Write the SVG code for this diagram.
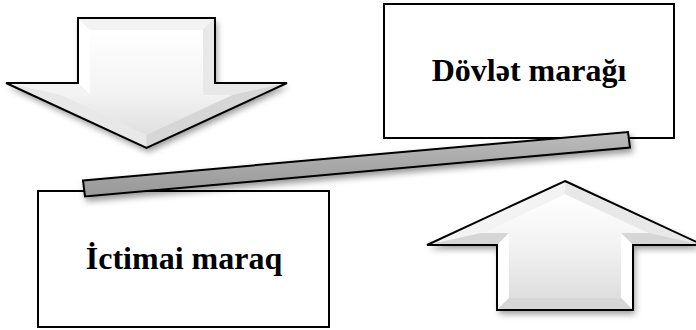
<svg xmlns="http://www.w3.org/2000/svg" width="696" height="330" viewBox="0 0 696 330">
  <defs>
    <filter id="softShadow" x="-20%" y="-20%" width="140%" height="160%">
      <feDropShadow dx="2" dy="4" stdDeviation="3" flood-color="#000" flood-opacity="0.4"/>
    </filter>
    <linearGradient id="faceDown" x1="0" y1="0" x2="0" y2="1">
      <stop offset="0" stop-color="#ffffff"/>
      <stop offset="0.6" stop-color="#f3f3f3"/>
      <stop offset="1" stop-color="#e0e0e0"/>
    </linearGradient>
    <linearGradient id="faceUp" x1="0" y1="0" x2="0" y2="1">
      <stop offset="0" stop-color="#ffffff"/>
      <stop offset="0.5" stop-color="#f2f2f2"/>
      <stop offset="1" stop-color="#dedede"/>
    </linearGradient>
    <linearGradient id="beamFill" x1="0" y1="0" x2="0" y2="1">
      <stop offset="0" stop-color="#bcbcbc"/>
      <stop offset="0.5" stop-color="#a8a8a8"/>
      <stop offset="1" stop-color="#989898"/>
    </linearGradient>
    <style>
      .outline { fill: none; stroke: #000; stroke-width: 2; stroke-linejoin: miter; }
      .box { fill: #fff; stroke: #000; stroke-width: 2; }
      .label { font-family: "Liberation Serif", "Times New Roman", serif; font-weight: bold; font-size: 32px; fill: #000; text-anchor: middle; }
      .hi { fill: #ffffff; }
      .lt { fill: #f3f3f3; }
      .md { fill: #e8e8e8; }
      .dk { fill: #d6d6d6; }
    </style>
  </defs>

  <!-- downward bevelled arrow -->
  <g id="arrow-down">
    <g filter="url(#softShadow)">
      <polygon points="78,18 215,18 215,83 287,83 146.5,148 6,83 78,83" fill="#e6e6e6"/>
    </g>
    <polygon class="lt" points="78,18 215,18 203,30 90,30"/>
    <polygon class="hi" points="78,18 90,30 90,95 78,83"/>
    <polygon class="md" points="215,18 215,83 203,95 203,30"/>
    <polygon class="lt" points="6,83 78,83 90,95 60.7,95"/>
    <polygon class="md" points="215,83 287,83 232.3,95 203,95"/>
    <polygon class="md" points="6,83 60.7,95 146.5,134.8 146.5,148"/>
    <polygon class="dk" points="287,83 146.5,148 146.5,134.8 232.3,95"/>
    <polygon fill="url(#faceDown)" points="90,30 203,30 203,95 232.3,95 146.5,134.8 60.7,95 90,95"/>
    <polygon class="outline" points="78,18 215,18 215,83 287,83 146.5,148 6,83 78,83"/>
  </g>

  <!-- upward bevelled arrow -->
  <g id="arrow-up">
    <g filter="url(#softShadow)">
      <polygon points="565,181 703,245 633,245 633,310 497,310 497,245 427,245" fill="#e6e6e6"/>
    </g>
    <polygon class="lt" points="427,245 565,181 565,194.2 481.4,233"/>
    <polygon class="md" points="565,181 703,245 648.6,233 565,194.2"/>
    <polygon class="dk" points="427,245 481.4,233 509,233 497,245"/>
    <polygon class="dk" points="633,245 703,245 648.6,233 621,233"/>
    <polygon class="hi" points="497,245 509,233 509,298 497,310"/>
    <polygon class="hi" points="633,245 633,310 621,298 621,233"/>
    <polygon class="dk" points="497,310 509,298 621,298 633,310"/>
    <polygon fill="url(#faceUp)" points="565,194.2 648.6,233 621,233 621,298 509,298 509,233 481.4,233"/>
    <polygon class="outline" points="565,181 703,245 633,245 633,310 497,310 497,245 427,245"/>
  </g>

  <!-- state interest box -->
  <g id="state-interest">
    <rect class="box" x="384" y="4" width="290" height="134"/>
    <text class="label" x="529" y="81">Dövlət marağı</text>
  </g>

  <!-- public interest box -->
  <g id="public-interest">
    <rect class="box" x="38" y="191" width="291" height="136"/>
    <text class="label" x="184" y="269">İctimai maraq</text>
  </g>

  <!-- tilted balance beam joining the two boxes -->
  <g id="connectors">
    <g filter="url(#softShadow)">
      <polygon points="83,180.5 628,132 630,147.5 85,196.5" fill="url(#beamFill)" stroke="#000" stroke-width="2" stroke-linejoin="miter"/>
    </g>
  </g>
</svg>
